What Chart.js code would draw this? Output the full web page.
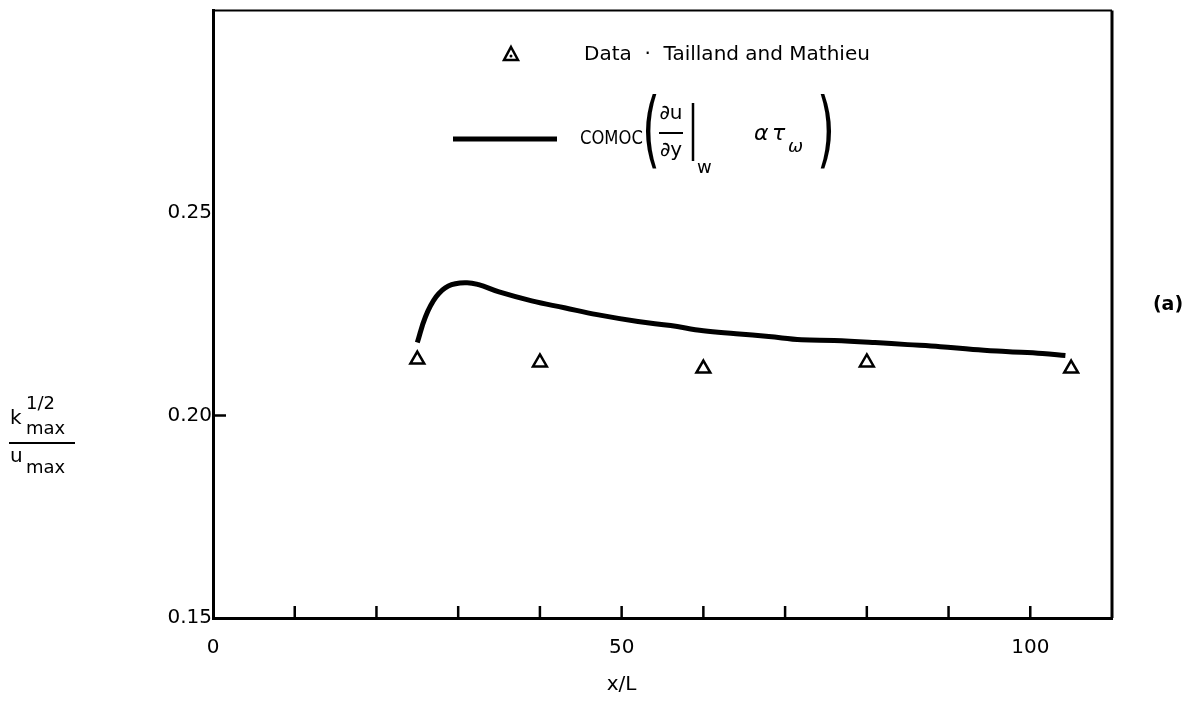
<!DOCTYPE html>
<html>
<head>
<meta charset="utf-8">
<script src="https://cdn.jsdelivr.net/npm/chart.js@4.4.1/dist/chart.umd.min.js"></script>
<style>
  body { margin: 0; background: #fff; }
  #wrap { width: 1193px; height: 702px; position: relative; }
</style>
</head>
<body>
<div id="wrap"><canvas id="chart"></canvas></div>
<script>
// COMOC curve
const curveX = [25, 26, 27.3, 28.8, 31, 32.5, 35, 39, 43, 47, 52, 56, 60, 64, 68, 72, 76, 81, 85, 89, 93, 97, 101.5, 104.3];
const curveY = [0.218, 0.2244, 0.2293, 0.232, 0.2328, 0.2323, 0.2305, 0.2283, 0.2266, 0.2249, 0.2232, 0.2222, 0.2209, 0.2202, 0.2195, 0.2187, 0.2185, 0.218, 0.2175, 0.217, 0.2163, 0.2158, 0.2153, 0.2148];

// measured points (Tailland and Mathieu)
const dataX = [25, 40, 60, 80, 105];
const dataY = [0.2138, 0.2131, 0.2116, 0.2131, 0.2116];

// tick labels
const xLabels = [0, 50, 100];
const yLabels = [0.15, 0.20, 0.25];
const yTickMarks = [0.20];

const dataLabel = "Data  \u00b7  Tailland and Mathieu";
const modelLabel = "COMOC";

function pairs(xs, ys) {
  return xs.map(function (x, i) { return { x: x, y: ys[i] }; });
}

const font = "DejaVu Sans";

//frame, inward ticks and the hand-set texts
const decorations = {
  id: "decorations",
  afterDraw: function (chart) {
    const ctx = chart.ctx;
    const a = chart.chartArea;
    const xs = chart.scales.x;
    const ys = chart.scales.y;
    ctx.save();
    ctx.strokeStyle = "#000";
    ctx.fillStyle = "#000";

    // top and right sides of the box
    ctx.lineWidth = 2;
    ctx.beginPath();
    ctx.moveTo(a.left, a.top);
    ctx.lineTo(a.right, a.top);
    ctx.stroke();
    ctx.lineWidth = 3;
    ctx.beginPath();
    ctx.moveTo(a.right, a.top);
    ctx.lineTo(a.right, a.bottom);
    ctx.stroke();

    // ticks pointing into the plot
    ctx.lineWidth = 2.5;
    xs.ticks.forEach(function (t) {
      if (t.value <= xs.min || t.value >= xs.max) return;
      const px = xs.getPixelForValue(t.value);
      ctx.beginPath();
      ctx.moveTo(px, a.bottom);
      ctx.lineTo(px, a.bottom - 12);
      ctx.stroke();
    });
    yTickMarks.forEach(function (v) {
      const py = ys.getPixelForValue(v);
      ctx.beginPath();
      ctx.moveTo(a.left, py);
      ctx.lineTo(a.left + 13, py);
      ctx.stroke();
    });

    ctx.textBaseline = "middle";

    // legend: data
    ctx.lineWidth = 2.5;
    ctx.beginPath();
    ctx.moveTo(511, 47);
    ctx.lineTo(518, 60);
    ctx.lineTo(504, 60);
    ctx.closePath();
    ctx.stroke();
    ctx.beginPath();
    ctx.arc(511, 56, 1.5, 0, Math.PI * 2);
    ctx.fill();
    ctx.font = "20px " + font;
    ctx.textAlign = "left";
    ctx.fillText(dataLabel, 584, 55);

    // legend: model line and formula
    ctx.lineWidth = 5;
    ctx.beginPath();
    ctx.moveTo(453, 139);
    ctx.lineTo(557, 139);
    ctx.stroke();
    ctx.save();
    ctx.translate(580, 139);
    ctx.scale(0.82, 1);
    ctx.fillText(modelLabel, 0, 0);
    ctx.restore();

    function bigParen(ch, x, y) {
      ctx.save();
      ctx.translate(x, y);
      ctx.scale(0.55, 1);
      ctx.font = "84px " + font;
      ctx.textAlign = "center";
      ctx.fillText(ch, 0, 0);
      ctx.restore();
    }
    bigParen("(", 651, 136);
    bigParen(")", 826, 136);

    ctx.font = "20px " + font;
    ctx.textAlign = "center";
    ctx.fillText("\u2202u", 671, 114);
    ctx.fillText("\u2202y", 671, 151);
    ctx.lineWidth = 2;
    ctx.beginPath();
    ctx.moveTo(659, 133);
    ctx.lineTo(683, 133);
    ctx.stroke();
    ctx.lineWidth = 2.5;
    ctx.beginPath();
    ctx.moveTo(693, 103);
    ctx.lineTo(693, 161);
    ctx.stroke();
    ctx.textAlign = "left";
    ctx.font = "18px " + font;
    ctx.fillText("w", 697, 168);
    ctx.font = "italic 22px " + font;
    ctx.fillText("\u03b1", 754, 134);
    ctx.fillText("\u03c4", 772, 134);
    ctx.font = "italic 18px " + font;
    ctx.fillText("\u03c9", 788, 147);

    // y axis title as a fraction
    ctx.font = "20px " + font;
    ctx.fillText("k", 10, 419);
    ctx.fillText("u", 10, 457);
    ctx.font = "18px " + font;
    ctx.fillText("1/2", 26, 404);
    ctx.fillText("max", 26, 429);
    ctx.fillText("max", 26, 468);
    ctx.lineWidth = 2;
    ctx.beginPath();
    ctx.moveTo(9, 443);
    ctx.lineTo(75, 443);
    ctx.stroke();

    // x axis title
    ctx.font = "20px " + font;
    ctx.textAlign = "center";
    ctx.fillText("x/L", xs.getPixelForValue(50), 685);

    // panel mark
    ctx.font = "bold 19px " + font;
    ctx.fillText("(a)", 1168, 305);

    ctx.restore();
  }
};

const ctx = document.getElementById("chart").getContext("2d");
const chart = new Chart(ctx, {
  type: "scatter",
  data: {
    datasets: [
      {
        label: modelLabel,
        type: "line",
        data: pairs(curveX, curveY),
        borderColor: "#000",
        borderWidth: 5,
        pointRadius: 0,
        tension: 0.4,
        fill: false,
      },
      {
        label: dataLabel,
        data: pairs(dataX, dataY),
        pointStyle: "triangle",
        pointRadius: 8,
        backgroundColor: "#fff",
        borderColor: "#000",
        borderWidth: 2.5,
      },
      {
        label: "centre dots",
        data: pairs(dataX, dataY),
        pointStyle: "circle",
        pointRadius: 1.7,
        backgroundColor: "#000",
        borderWidth: 0,
      },
    ],
  },
  options: {
    responsive: true,
    maintainAspectRatio: false,
    animation: false,
    layout: { padding: { left: 0, top: 0, right: 81, bottom: 0 } },
    plugins: {
      legend: { display: false },
      tooltip: { enabled: false },
    },
    scales: {
      x: {
        type: "linear",
        min: 0,
        max: 110,
        afterFit: function (s) { s.height = 84; },
        grid: { display: false, drawTicks: false },
        border: { display: true, color: "#000", width: 3 },
        ticks: {
          stepSize: 10,
          padding: 18,
          color: "#000",
          font: { family: font, size: 20 },
          maxRotation: 0,
          autoSkip: false,
          callback: function (v) { return xLabels.indexOf(v) >= 0 ? String(v) : ""; },
        },
      },
      y: {
        min: 0.15,
        max: 0.30,
        afterFit: function (s) { s.width = 213; },
        grid: { display: false, drawTicks: false },
        border: { display: true, color: "#000", width: 3 },
        ticks: {
          stepSize: 0.05,
          padding: 1,
          color: "#000",
          font: { family: font, size: 20, lineHeight: 0.1 },
          callback: function (v) {
            const hit = yLabels.some(function (l) { return Math.abs(l - v) < 1e-6; });
            return hit ? v.toFixed(2) : "";
          },
        },
      },
    },
  },
  plugins: [decorations],
});
</script>
</body>
</html>
